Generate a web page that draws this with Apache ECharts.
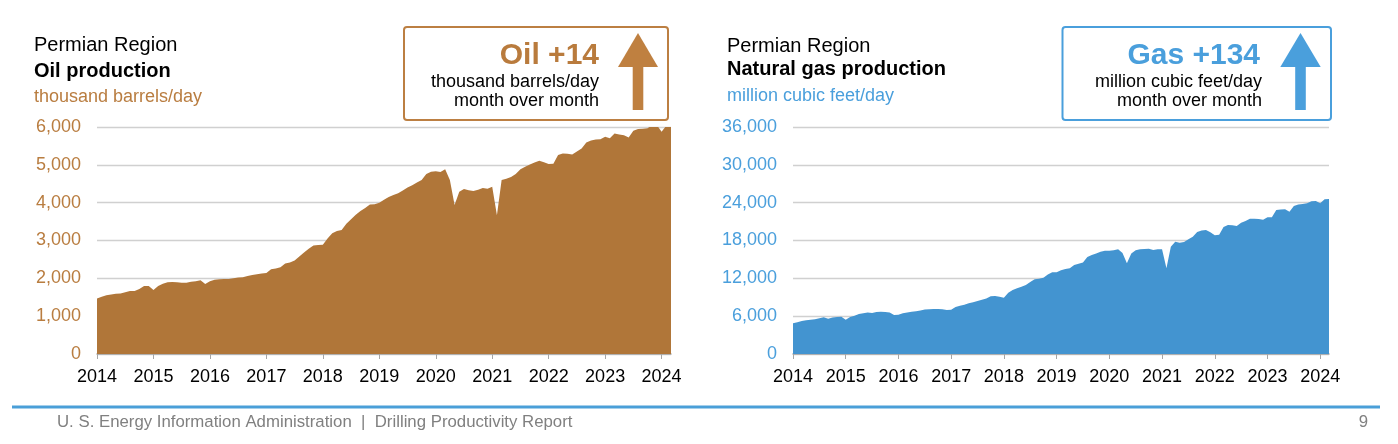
<!DOCTYPE html>
<html>
<head>
<meta charset="utf-8">
<script src="https://cdn.jsdelivr.net/npm/echarts@6/dist/echarts.min.js"></script>
<style>
html,body{margin:0;padding:0;background:#fff;}
#c{width:1398px;height:444px;}
</style>
</head>
<body>
<div id="c"></div>
<script>
// Monthly values, Jan 2014 - Mar 2024
const oil = [
  1470,1510,1550,1570,1590,1600,1630,1665,1665,1720,1800,1800,
  1690,1800,1860,1895,1900,1895,1885,1880,1910,1925,1950,1850,
  1920,1960,1975,1980,1985,2000,2025,2030,2060,2090,2110,2125,
  2140,2240,2260,2290,2390,2420,2470,2575,2680,2780,2870,2880,
  2890,3050,3190,3250,3280,3440,3560,3680,3780,3860,3950,3960,
  4000,4080,4150,4200,4250,4320,4400,4460,4530,4600,4760,4820,
  4830,4810,4880,4600,3940,4290,4360,4330,4310,4340,4390,4370,
  4420,3670,4600,4630,4680,4760,4880,4950,5010,5060,5110,5070,
  5020,5030,5260,5300,5290,5270,5350,5430,5590,5640,5670,5675,
  5740,5700,5830,5800,5780,5720,5900,5950,5955,5965,6050,6050,
  5875,6035,6050
];
const gas = [
  4870,5050,5250,5350,5450,5520,5650,5810,5600,5800,5850,5920,
  5450,5850,6050,6340,6480,6600,6500,6650,6700,6650,6600,6185,
  6240,6450,6580,6700,6770,6900,7050,7100,7135,7135,7100,6975,
  7000,7450,7650,7800,8050,8200,8400,8600,8800,9150,9200,9090,
  8930,9700,10150,10420,10650,10950,11400,11850,11950,12100,12600,12950,
  12950,13300,13500,13600,14100,14300,14500,15400,15700,15950,16200,16385,
  16390,16450,16600,16000,14400,15950,16450,16600,16650,16700,16500,16600,
  16600,13585,17000,17800,17650,17750,18200,18600,19350,19600,19650,19300,
  18820,18900,20150,20450,20400,20300,20830,21100,21465,21465,21400,21300,
  21675,21700,22835,22900,22940,22570,23470,23700,23800,23890,24210,24260,
  23890,24525,24580
];
const years = ['2014','2015','2016','2017','2018','2019','2020','2021','2022','2023','2024'];
const lastYearMonths = 3;
const months = [];
years.forEach((y, i) => {
  const n = i === years.length - 1 ? lastYearMonths : 12;
  for (let m = 1; m <= n; m++) months.push(y + '-' + (m < 10 ? '0' + m : m));
});

const FONT = '"Liberation Sans", Arial, sans-serif';
const BROWN = '#B07639';
const BROWN_L = '#B97D40';
const BLUE = '#4394D0';
const BLUE_L = '#4A9FDC';

function xAx(gi) {
  return {
    type: 'category', gridIndex: gi, data: months, boundaryGap: false,
    axisLine: { lineStyle: { color: '#a6a6a6', width: 1.5 } },
    axisTick: { show: true, interval: (i) => i % 12 === 0, length: 5, lineStyle: { color: '#a6a6a6', width: 1 } },
    axisLabel: { interval: (i) => i % 12 === 0, formatter: (v) => v.slice(0, 4), color: '#000', fontSize: 18, fontFamily: FONT, margin: 14 },
    splitLine: { show: false }
  };
}
function yAx(gi, max, itv, col) {
  return {
    type: 'value', gridIndex: gi, min: 0, max: max, interval: itv,
    axisLine: { show: false }, axisTick: { show: false },
    axisLabel: { color: col, fontSize: 18, fontFamily: FONT, margin: 16 },
    splitLine: { lineStyle: { color: '#d0d0d0', width: 1.3 } }
  };
}
function txt(x, y, text, font, fill, align) {
  return { type: 'text', silent: true, style: { x: x, y: y, text: text, font: font, fill: fill, textAlign: align || 'left', align: align || 'left', textVerticalAlign: 'middle', verticalAlign: 'middle' } };
}

const chart = echarts.init(document.getElementById('c'), null, { renderer: 'canvas' });
chart.setOption({
  animation: false,
  backgroundColor: '#fff',
  grid: [
    { left: 97, top: 127, width: 574, height: 227 },
    { left: 793, top: 127, width: 536, height: 227 }
  ],
  xAxis: [xAx(0), xAx(1)],
  yAxis: [yAx(0, 6000, 1000, BROWN_L), yAx(1, 36000, 6000, BLUE_L)],
  series: [
    { type: 'line', xAxisIndex: 0, yAxisIndex: 0, data: oil, symbol: 'none', lineStyle: { width: 0 }, areaStyle: { color: BROWN, opacity: 1 } },
    { type: 'line', xAxisIndex: 1, yAxisIndex: 1, data: gas, symbol: 'none', lineStyle: { width: 0 }, areaStyle: { color: BLUE, opacity: 1 } }
  ],
  graphic: [
    txt(34, 45, 'Permian Region', '20px ' + FONT, '#000'),
    txt(34, 71, 'Oil production', 'bold 20px ' + FONT, '#000'),
    txt(34, 97.5, 'thousand barrels/day', '18px ' + FONT, BROWN_L),
    txt(727, 46.5, 'Permian Region', '20px ' + FONT, '#000'),
    txt(727, 69, 'Natural gas production', 'bold 20px ' + FONT, '#000'),
    txt(727, 96.5, 'million cubic feet/day', '18px ' + FONT, BLUE_L),
    // left box
    { type: 'rect', silent: true, shape: { x: 404, y: 27, width: 264, height: 93, r: 3 }, style: { fill: '#fff', stroke: '#BC7F42', lineWidth: 2 } },
    txt(599, 55.5, 'Oil +14', 'bold 30px ' + FONT, '#B97B3D', 'right'),
    txt(599, 82.5, 'thousand barrels/day', '18px ' + FONT, '#000', 'right'),
    txt(599, 101, 'month over month', '18px ' + FONT, '#000', 'right'),
    { type: 'polygon', silent: true, shape: { points: [[638, 33], [618, 67], [658, 67]] }, style: { fill: '#BF8040' } },
    { type: 'rect', silent: true, shape: { x: 632.7, y: 66, width: 10.6, height: 44 }, style: { fill: '#BF8040' } },
    // right box
    { type: 'rect', silent: true, shape: { x: 1062.5, y: 27, width: 268.5, height: 93, r: 3 }, style: { fill: '#fff', stroke: '#4A9FDC', lineWidth: 2 } },
    txt(1260, 55.5, 'Gas +134', 'bold 30px ' + FONT, '#4A9FDC', 'right'),
    txt(1262, 82.5, 'million cubic feet/day', '18px ' + FONT, '#000', 'right'),
    txt(1262, 101, 'month over month', '18px ' + FONT, '#000', 'right'),
    { type: 'polygon', silent: true, shape: { points: [[1300.5, 33], [1280.3, 67], [1320.7, 67]] }, style: { fill: '#4A9FDC' } },
    { type: 'rect', silent: true, shape: { x: 1295.2, y: 66, width: 10.6, height: 44 }, style: { fill: '#4A9FDC' } },
    // footer
    { type: 'rect', silent: true, shape: { x: 12, y: 405.5, width: 1368, height: 3 }, style: { fill: '#4A9FD8' } },
    txt(57, 422.5, 'U. S. Energy Information Administration  |  Drilling Productivity Report', '16.8px ' + FONT, '#808080'),
    txt(1368, 422.5, '9', '16.8px ' + FONT, '#808080', 'right')
  ]
});
</script>
</body>
</html>
